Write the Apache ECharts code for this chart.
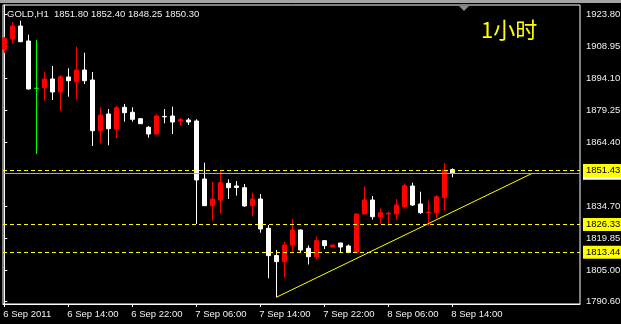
<!DOCTYPE html>
<html><head><meta charset="utf-8">
<script src="https://cdn.jsdelivr.net/npm/echarts@6/dist/echarts.min.js"></script>
<style>html,body{margin:0;padding:0;background:#000;}#c{width:621px;height:324px;}</style>
</head><body><div id="c"></div>
<script>
const symbolName = 'GOLD,H1';
const periodLabel = '1小时';
const barTimes = [
 '6 Sep 06:00','6 Sep 07:00','6 Sep 08:00','6 Sep 09:00','6 Sep 10:00','6 Sep 11:00','6 Sep 12:00','6 Sep 13:00','6 Sep 14:00','6 Sep 15:00',
 '6 Sep 16:00','6 Sep 17:00','6 Sep 18:00','6 Sep 19:00','6 Sep 20:00','6 Sep 21:00','6 Sep 22:00','6 Sep 23:00',
 '7 Sep 00:00','7 Sep 01:00','7 Sep 02:00','7 Sep 03:00','7 Sep 04:00','7 Sep 05:00','7 Sep 06:00','7 Sep 07:00','7 Sep 08:00','7 Sep 09:00',
 '7 Sep 10:00','7 Sep 11:00','7 Sep 12:00','7 Sep 13:00','7 Sep 14:00','7 Sep 15:00','7 Sep 16:00','7 Sep 17:00','7 Sep 18:00','7 Sep 19:00',
 '7 Sep 20:00','7 Sep 21:00','7 Sep 22:00','7 Sep 23:00',
 '8 Sep 00:00','8 Sep 01:00','8 Sep 02:00','8 Sep 03:00','8 Sep 04:00','8 Sep 05:00','8 Sep 06:00','8 Sep 07:00','8 Sep 08:00','8 Sep 09:00',
 '8 Sep 10:00','8 Sep 11:00','8 Sep 12:00','8 Sep 13:00','8 Sep 14:00'
];
const opens = [
 1907.69,1912.47,1918.51,1911.54,1889.57,1889.85,1893.89,1887.85,1894.82,1892.63,
 1898.07,1893.42,1869.87,1877.63,1870.66,1880.74,1878.42,1875.45,1871.45,1868.34,
 1876.50,1876.70,1874.37,1874.84,1874.37,1847.43,1835.03,1837.67,1845.43,1844.18,
 1843.39,1835.03,1838.14,1824.53,1811.89,1809.01,1816.77,1823.74,1815.24,1811.34,
 1818.77,1815.84,1817.69,1816.31,1813.29,1831.17,1837.67,1829.78,1831.17,1831.17,
 1834.66,1844.18,1835.82,1831.78,1831.78,1838.84,1851.80
];
const highs = [
 1913.40,1920.23,1920.97,1914.47,1912.01,1897.28,1899.93,1895.61,1898.86,1908.90,
 1906.11,1897.14,1880.74,1879.95,1881.34,1882.27,1880.74,1875.60,1872.05,1877.49,
 1879.95,1881.02,1875.77,1875.77,1875.17,1855.00,1846.03,1851.15,1847.29,1846.50,
 1845.10,1841.06,1840.46,1826.06,1814.45,1818.16,1828.85,1823.97,1816.54,1820.63,
 1819.09,1816.90,1817.80,1816.99,1831.40,1843.85,1839.53,1833.73,1832.34,1838.14,
 1845.43,1845.70,1841.53,1837.35,1839.98,1854.86,1852.40
];
const lows = [
 1905.97,1910.47,1911.00,1889.01,1859.04,1883.81,1884.13,1879.16,1885.66,1884.46,
 1891.57,1862.76,1864.01,1863.08,1866.34,1874.05,1874.05,1873.00,1866.62,1868.01,
 1873.30,1868.34,1872.19,1872.52,1826.53,1834.89,1828.06,1831.50,1838.14,1839.68,
 1834.56,1830.24,1822.49,1801.30,1792.47,1801.66,1813.66,1813.51,1807.71,1810.13,
 1814.91,1815.70,1813.51,1813.19,1813.06,1831.03,1828.52,1826.67,1825.69,1828.39,
 1833.63,1834.89,1831.17,1825.69,1829.18,1832.70,1848.25
];
const closes = [
 1912.80,1918.51,1911.22,1889.24,1889.57,1893.89,1887.85,1894.96,1893.10,1898.07,
 1893.10,1869.87,1877.16,1870.80,1880.55,1878.23,1875.17,1873.12,1868.34,1876.70,
 1876.30,1873.91,1875.07,1873.91,1846.97,1835.03,1838.14,1845.70,1843.39,1843.48,
 1834.89,1838.14,1824.20,1811.80,1809.01,1816.77,1823.74,1814.45,1811.34,1818.77,
 1816.47,1816.77,1815.84,1813.29,1831.17,1837.67,1829.92,1831.78,1831.52,1835.35,
 1844.32,1835.35,1831.78,1832.10,1839.21,1851.61,1850.30
];
const xTickIdx = [0, 8, 16, 24, 32, 40, 48, 56];
const xTickLabels = ['6 Sep 2011','6 Sep 14:00','6 Sep 22:00','7 Sep 06:00','7 Sep 14:00','7 Sep 22:00','8 Sep 06:00','8 Sep 14:00'];
const yTickValues = [1923.80, 1908.95, 1894.10, 1879.25, 1864.40, 1834.70, 1819.85, 1805.00, 1790.60];
const levelPrices = [1851.43, 1826.33, 1813.44];
const bidPrice = 1850.30;
const trendIdx = [34, 66];
const trendPrice = [1792.47, 1850.08];

const FONT = "'Liberation Sans', Arial, sans-serif";
const FS = 9.5;
const last = opens.length - 1;
const headText = symbolName + '  ' + [opens[last], highs[last], lows[last], closes[last]].map(v => v.toFixed(2)).join(' ');

const chart = echarts.init(document.getElementById('c'), null, {renderer: 'canvas'});
chart.setOption({
  animation: false,
  backgroundColor: '#000000',
  title: [
    {text: headText, left: 7, top: 9, padding: 0,
     textStyle: {color: '#f0f0f0', fontSize: FS, fontWeight: 'normal', fontFamily: FONT}},
    {text: periodLabel, left: 481, top: 19, padding: 0,
     textStyle: {color: '#ffff00', fontSize: 22, fontWeight: 'normal', fontFamily: "'Noto Sans CJK SC', sans-serif"}}
  ],
  graphic: [
    {type: 'rect', shape: {x: 0, y: 0, width: 621, height: 3}, style: {fill: '#a4a4a4'}, z: 100},
    {type: 'polygon', shape: {points: [[459, 6], [469, 6], [464, 11]]}, style: {fill: '#8a8a8a'}, z: 100}
  ],
  grid: {left: 3, top: 5, width: 577, height: 299, show: true, borderColor: '#ffffff', borderWidth: 1,
         backgroundColor: '#000000', containLabel: false, outerBoundsMode: 'none'},
  xAxis: {
    type: 'value', min: -0.1625, max: 71.9625,
    axisLine: {show: true, onZero: false, lineStyle: {color: '#ffffff', width: 1}},
    axisTick: {show: true, customValues: xTickIdx, length: 3, lineStyle: {color: '#ffffff'}},
    axisLabel: {show: true, customValues: xTickIdx, color: '#f0f0f0', fontSize: FS, fontFamily: FONT,
      align: 'left', margin: 5, padding: [0, 0, 0, -1],
      formatter: v => { const k = xTickIdx.indexOf(Math.round(v)); return k >= 0 ? xTickLabels[k] : ''; }},
    splitLine: {show: false}
  },
  yAxis: {
    type: 'value', position: 'right', min: 1789.35, max: 1928.27, scale: true,
    axisLine: {show: true, lineStyle: {color: '#ffffff', width: 1}},
    axisTick: {show: true, customValues: yTickValues, length: 3, lineStyle: {color: '#ffffff'}},
    axisLabel: {show: true, customValues: yTickValues, color: '#f0f0f0', fontSize: FS, fontFamily: FONT,
      margin: 6, formatter: v => Number(v).toFixed(2)},
    splitLine: {show: false}
  },
  series: [
    {
      type: 'candlestick',
      data: opens.map((o, i) => [i, o, closes[i], lows[i], highs[i]]),
      encode: {x: 0, y: [1, 2, 3, 4]},
      barWidth: 4,
      itemStyle: {color: '#ff0000', color0: '#ffffff', borderColor: '#ff0000', borderColor0: '#ffffff',
                  borderColorDoji: '#00ff00', borderWidth: 1},
      markLine: {
        silent: true, symbol: ['none', 'none'], animation: false,
        data: [
          {yAxis: bidPrice, lineStyle: {color: '#a8a8a8', type: 'solid', width: 1},
           label: {show: true, position: 'end', distance: 3, formatter: p => Number(p.value).toFixed(2),
                   color: '#ffffff', backgroundColor: '#ffffff', padding: [2, 4, 2, 4], fontSize: FS, fontFamily: FONT}}
        ].concat(levelPrices.map(p => ({
          yAxis: p, lineStyle: {color: '#ffff00', type: [4, 3], width: 1},
          label: {show: true, position: 'end', distance: 3, formatter: q => Number(q.value).toFixed(2),
                  color: '#000000', backgroundColor: '#ffff00', padding: [2, 4, 1, 3], fontSize: FS, fontFamily: FONT}
        })))
      }
    },
    {
      type: 'line',
      data: trendIdx.map((x, i) => [x, trendPrice[i]]),
      showSymbol: false, symbol: 'none',
      lineStyle: {color: '#ffff00', width: 1},
      z: 3
    }
  ]
});
</script>
</body></html>
